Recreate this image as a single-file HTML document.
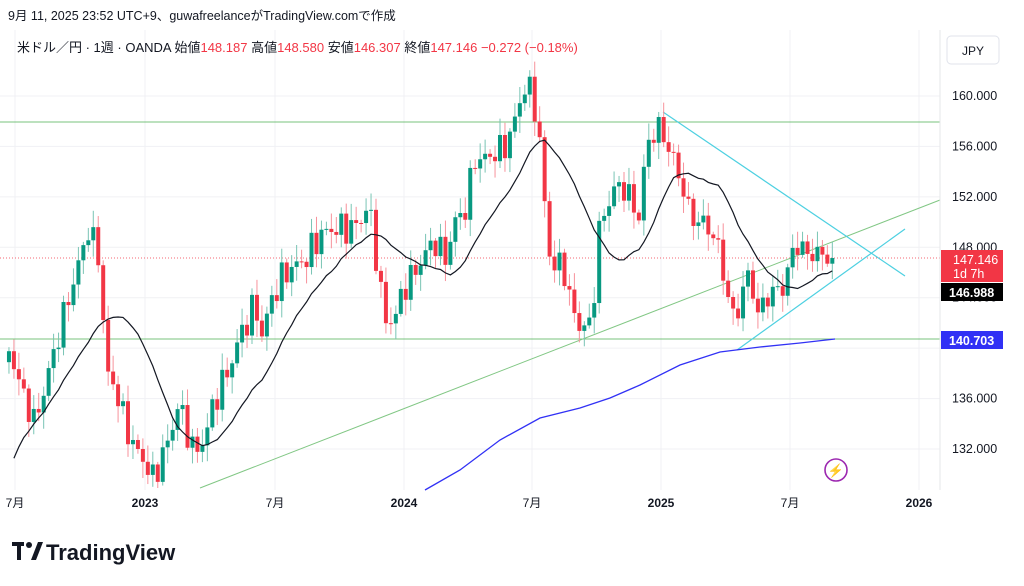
<!DOCTYPE html>
<html><head><meta charset="utf-8"><style>
body{margin:0;background:#fff;width:1024px;height:586px;overflow:hidden;font-family:"Liberation Sans","Noto Sans CJK JP",sans-serif}
svg{position:absolute;left:0;top:0}
</style></head><body>
<svg id="s" width="1024" height="586" xmlns="http://www.w3.org/2000/svg" font-family="Liberation Sans, Noto Sans CJK JP, sans-serif">
<text x="8" y="20" font-size="12.5" fill="#131722">9月 11, 2025 23:52 UTC+9、guwafreelanceがTradingView.comで作成</text>
<g id="grid" stroke="#f0f1f4" stroke-width="1"></g>
<g id="plot"></g>
<line x1="940" y1="30" x2="940" y2="490" stroke="#e6e7ea"/>
<text x="17" y="52" font-size="13" fill="#131722">米ドル／円 · 1週 · OANDA  始値<tspan fill="#f23645">148.187</tspan>  高値<tspan fill="#f23645">148.580</tspan>  安値<tspan fill="#f23645">146.307</tspan>  終値<tspan fill="#f23645">147.146  −0.272 (−0.18%)</tspan></text>
<rect x="947" y="36" width="52" height="28" rx="4" fill="#fff" stroke="#e0e3eb"/>
<text x="973" y="55" font-size="12" fill="#131722" text-anchor="middle">JPY</text>
<g id="ylab" font-size="12.5" fill="#131722"></g>
<g id="xlab" font-size="12" fill="#131722" font-weight="bold" text-anchor="middle"></g>
<rect x="941" y="250" width="62" height="32" fill="#f23645"/>
<text x="953" y="264" font-size="12.5" fill="#fff">147.146</text>
<text x="953" y="278" font-size="12.5" fill="#fff">1d 7h</text>
<rect x="941" y="283" width="62" height="18" fill="#000"/>
<text x="949" y="297" font-size="12.5" fill="#fff" font-weight="bold">146.988</text>
<rect x="941" y="331" width="62" height="18" fill="#3131f5"/>
<text x="949" y="345" font-size="12.5" fill="#fff" font-weight="bold">140.703</text>
<circle cx="836" cy="470" r="11" fill="none" stroke="#9c27b0" stroke-width="1.6"/>
<text x="836" y="475" font-size="13" fill="#9c27b0" text-anchor="middle">⚡</text>
<g transform="translate(12,542)"><rect x="0" y="0" width="12" height="4" fill="#131722"/><rect x="5" y="0" width="4" height="18" fill="#131722"/><circle cx="17" cy="3" r="3" fill="#131722"/><path d="M19 18 L26 0 L31 0 L24 18Z" fill="#131722"/></g>
<text x="46" y="560" font-size="22" font-weight="bold" fill="#131722">TradingView</text>
</svg>
<script>
const Y=p=>96+(160-p)*12.607;
const g=document.getElementById('grid'),pl=document.getElementById('plot'),yl=document.getElementById('ylab'),xl=document.getElementById('xlab');
let h='';
for(let p=132;p<=160;p+=4){h+=`<line x1="0" y1="${Y(p)}" x2="940" y2="${Y(p)}"/>`;}
const xs=[[15,'7月'],[145,'2023'],[275,'7月'],[404,'2024'],[532,'7月'],[661,'2025'],[790,'7月'],[919,'2026']];
xs.forEach(a=>h+=`<line x1="${a[0]}" y1="30" x2="${a[0]}" y2="490"/>`);
g.innerHTML=h;
let t='';for(let p=132;p<=160;p+=4){if(p==140)continue;t+=`<text x="952" y="${Y(p)+4}">${p}.000</text>`;}yl.innerHTML=t;
t='';xs.forEach(a=>t+=`<text x="${a[0]}" y="507" font-weight="${a[1].indexOf('月')>0?'normal':'bold'}">${a[1]}</text>`);xl.innerHTML=t;
const K=[[-120,118],[-60,124],[-20,131],[10,140],[20,137],[35,134],[45,137],[55,140],[65,143],[80,147],[88,149.5],[100,147],[106,138],[115,137],[125,134],[135,132],[145,131],[152,129.5],[160,131],[170,133],[178,135.5],[185,134],[195,131.5],[205,133],[215,136],[230,138.5],[240,141],[255,143.5],[262,141],[272,144],[285,146],[305,147],[320,149],[335,149.5],[350,149.5],[360,150],[368,151.5],[375,148],[385,142],[395,142.5],[405,145],[415,146],[425,147.5],[435,148.5],[445,147],[455,150],[465,151],[475,155],[485,155],[495,155.5],[505,156],[515,158],[522,160.5],[530,160.5],[538,158],[545,151],[552,146],[562,147],[572,143],[582,141.5],[592,142],[598,149],[610,152],[620,153],[630,152],[638,150],[648,156.5],[660,157.5],[668,156],[680,153.5],[690,150.5],[700,150],[710,149.5],[720,147.5],[728,144],[735,142],[742,144.5],[750,146],[758,142.5],[765,144],[775,144.5],[785,145],[795,148.5],[805,147.5],[815,147.5],[825,147.3],[832,147.8],[837,147.15]];
function interp(x){for(let i=0;i<K.length-1;i++){if(x>=K[i][0]&&x<=K[i+1][0]){const f=(x-K[i][0])/(K[i+1][0]-K[i][0]);return K[i][1]+f*(K[i+1][1]-K[i][1]);}}return K[K.length-1][1];}
let c=[],X=[];
for(let x=-120;x<=837.1;x+=4.96){let n=Math.sin(x*1.7)*0.8+Math.sin(x*0.63)*0.5;if(x>830)n=0;c.push(interp(x)+n);X.push(x);}
c[c.length-1]=147.146;
let o='',ma=[];const P=16;
for(let i=1;i<c.length;i++){const x=X[i];const op=c[i-1],cl=c[i];const r1=Math.abs(Math.sin(i*2.3))*1.1+0.2,r2=Math.abs(Math.cos(i*1.9))*1.1+0.2;const hi=Math.max(op,cl)+r1,lo=Math.min(op,cl)-r2;
 if(i>=P){let s=0;for(let j=i-P+1;j<=i;j++)s+=c[j];ma.push([x,s/P]);}
 if(x<8)continue;const col=cl>=op?'#089981':'#f23645';const col2=cl>=op?'#79c4b4':'#f7929b';
 o+=`<line x1="${x}" x2="${x}" y1="${Math.max(Y(hi),33)}" y2="${Math.min(Y(lo),488)}" stroke="${col2}"/>`;
 const y1=Y(Math.max(op,cl)),y2=Y(Math.min(op,cl));o+=`<rect x="${x-2}" y="${Math.max(y1,33)}" width="4" height="${Math.max(y2-y1,1)}" fill="${col}"/>`;}
let m=ma.filter(a=>a[0]>=10).map(a=>a[0].toFixed(1)+','+Math.min(Y(a[1]),490).toFixed(1)).join(' ');
let lines=`<line x1="0" y1="122" x2="940" y2="122" stroke="#4caf50" stroke-width="0.8"/><line x1="0" y1="339" x2="940" y2="339" stroke="#4caf50" stroke-width="0.8"/>
<line x1="0" y1="258" x2="940" y2="258" stroke="#f23645" stroke-dasharray="1,2" stroke-width="0.8"/>
<line x1="200" y1="488" x2="940" y2="200" stroke="#81c784" stroke-width="1"/>
<line x1="663" y1="112" x2="905" y2="276" stroke="#4dd0e1" stroke-width="1.2"/><line x1="737" y1="350" x2="905" y2="229" stroke="#4dd0e1" stroke-width="1.2"/>
<polyline points="425,490 460,470 500,440 540,418 580,408 610,398 640,385 680,365 720,352 760,347 800,343 835,339" fill="none" stroke="#3131f5" stroke-width="1.3"/>`;
pl.innerHTML=lines+o+`<polyline points="${m}" fill="none" stroke="#131722" stroke-width="1.2"/>`;
</script>
</body></html>
